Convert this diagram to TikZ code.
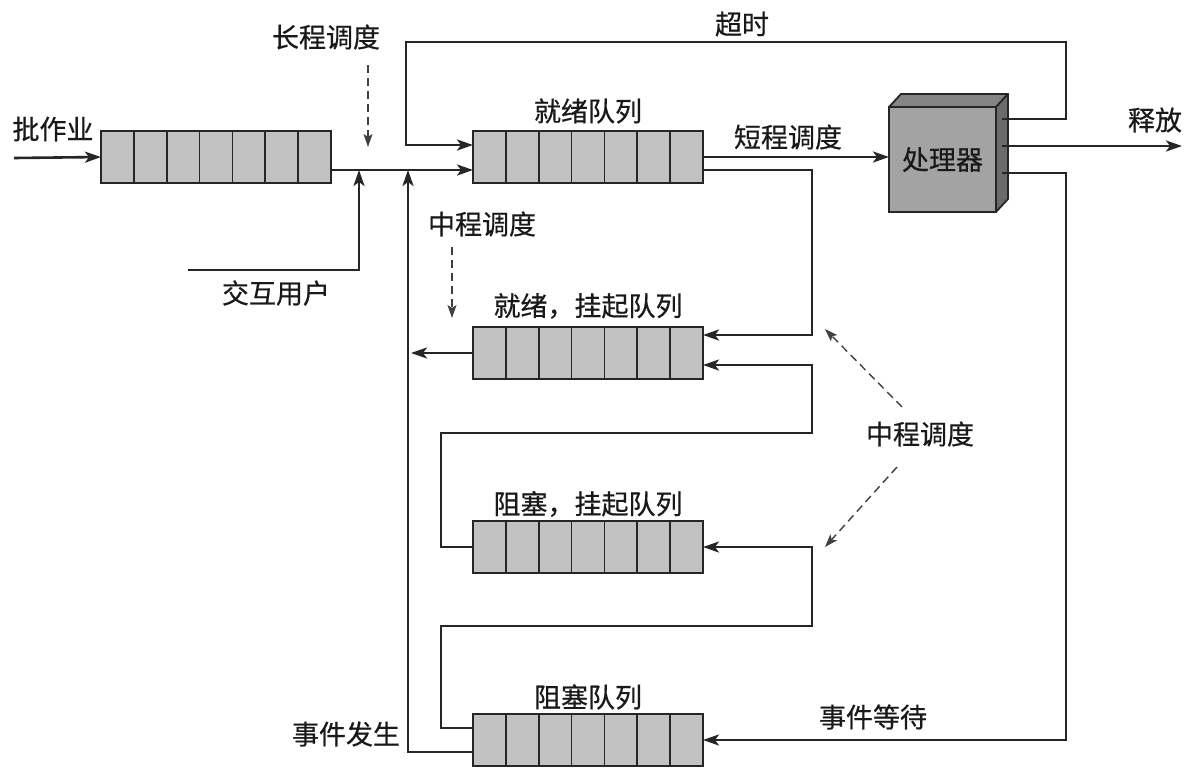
\documentclass[tikz,border=0pt]{standalone}
\usepackage{fontspec}
\setmainfont{Noto Sans CJK SC}[FakeBold=0.6]
\usetikzlibrary{arrows.meta,calc}
\begin{document}
\begin{tikzpicture}[x=1pt,y=-1pt,
  line/.style={line width=2.6pt, draw=black!85},
  arr/.style={line, -{Stealth[length=16pt,width=11pt,inset=4pt]}},
  dasharr/.style={line width=1.4pt, draw=black!75, dash pattern=on 8pt off 5pt, -{Stealth[length=13pt,width=9pt,inset=3pt]}},
  queue/.style={draw=black!85, line width=1.8pt, fill=black!24, minimum width=230pt, minimum height=52pt, inner sep=0pt, outer sep=0pt},
  lbl/.style={font=\fontsize{27}{30}\selectfont, text=black!90, inner sep=0pt}
]
\useasboundingbox (0,0) rectangle (1187,780);

% queues
\node[queue] (bq) at (216,157) {};
\node[queue] (rq) at (588,157) {};
\node[queue] (rs) at (588,353) {};
\node[queue] (bs) at (588,547) {};
\node[queue] (bl) at (588,740) {};
\foreach \q in {bq,rq,rs,bs,bl}{
  \foreach \i in {1,...,6}{
    \draw[line width=1.8pt, black!85] ($(\q.north west)!\i/7!(\q.north east)$) -- ($(\q.south west)!\i/7!(\q.south east)$);
  }
}

% processor
\node[draw=black!85, line width=1.8pt, fill=black!36, minimum width=107pt, minimum height=105pt, inner sep=0pt, outer sep=0pt] (cpu) at (942.5,159.5) {};
\draw[line width=1.8pt, black!85, fill=black!48, line join=round] (cpu.north west) -- ++(12,-13) -- ++(107,0) -- (cpu.north east) -- cycle;
\draw[line width=1.8pt, black!85, fill=black!58, line join=round] (cpu.north east) -- ++(12,-13) -- ++(0,105) -- (cpu.south east) -- cycle;
\node[lbl] (cpul) at (cpu.center) {处理器};

% labels
\node[lbl] (lbatch) at (53,129) {批作业};
\node[lbl] (llong) at (326,37) {长程调度};
\node[lbl] (ltime) at (742,24) {超时};
\node[lbl] (lready) at (588,111) {就绪队列};
\node[lbl] (lshort) at (788,137) {短程调度};
\node[lbl] (lrel) at (1155,120) {释放};
\node[lbl] (lmid1) at (482,224) {中程调度};
\node[lbl] (linter) at (276,293) {交互用户};
\node[lbl] (lrs) at (588,306) {就绪，挂起队列};
\node[lbl] (lbs) at (588,504) {阻塞，挂起队列};
\node[lbl] (lmid2) at (920,434) {中程调度};
\node[lbl] (lbl2) at (588,697) {阻塞队列};
\node[lbl] (lwait) at (873,717) {事件等待};
\node[lbl] (locc) at (346,734) {事件发生};

% coordinates
\coordinate (bin) at (14,158);
\coordinate (iu) at (188,270);
\coordinate (j1) at (359,170);
\coordinate (j2) at (408,170);
\coordinate (c1) at (1002,119);
\coordinate (c2) at (1002,146);
\coordinate (c3) at (1002,173);
\coordinate (rel) at (1182,146);
\coordinate (k1) at (441,433);
\coordinate (k2) at (441,626);

% connectors
\draw[arr] (bin) -- (bq.west);
\draw[arr] ([yshift=-13pt]bq.east) -- ([yshift=-13pt]rq.west);
\draw[arr] (iu) -| (j1);
\draw[arr] ([yshift=-12pt]bl.west) -| (j2);
\draw[arr, shorten >=3pt] (rs.west) -- (rs.west -| j2);
\draw[arr] (c1) -- (1066,119) -- (1066,42) -- (406,42) |- ([yshift=12pt]rq.west);
\draw[arr] (rq.east) -- (cpu.west |- rq.east);
\draw[arr] (c2) -- (rel);
\draw[arr] (c3) -- (1066,173) |- (bl.east);
\draw[arr] ([yshift=-13pt]rq.east) -- (812,170) |- ([yshift=18pt]rs.east);
\draw[arr] (bs.west) -| (k1) -- (812,433) |- ([yshift=-12pt]rs.east);
\draw[arr] ([yshift=12pt]bl.west) -| (k2) -- (812,626) |- (bs.east);

% dashed
\draw[dasharr] (368,65) -- (368,147);
\draw[dasharr] (452,247) -- (452,318);
\draw[dasharr] (902,407) -- (825,329);
\draw[dasharr] (897,467) -- (825,547);
\end{tikzpicture}
\end{document}
